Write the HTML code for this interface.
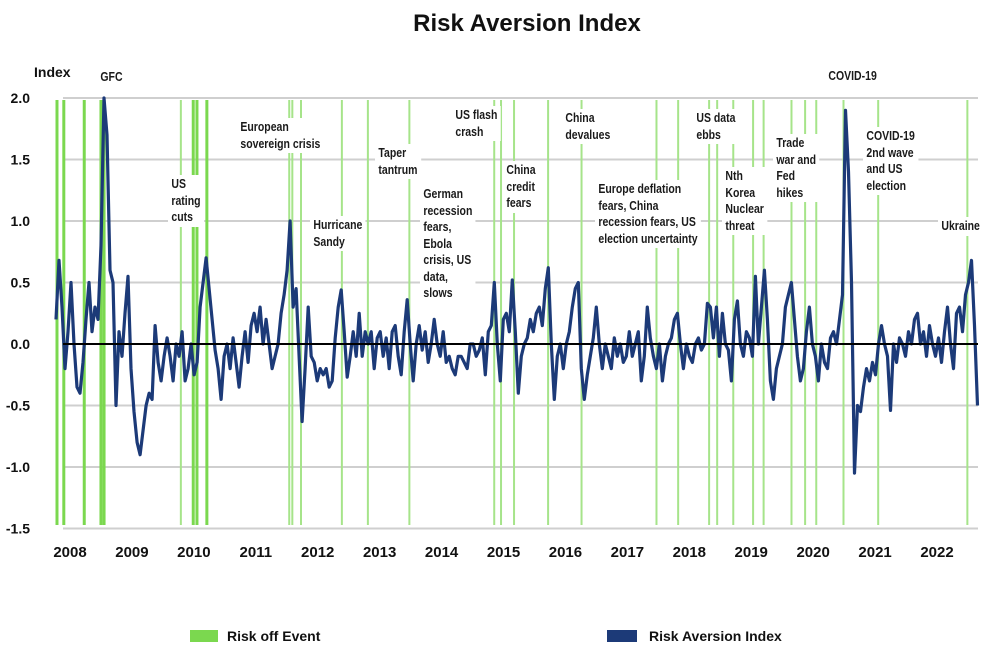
<!DOCTYPE html>
<html><head><meta charset="utf-8">
<style>
html,body{margin:0;padding:0;background:#fff;}
#wrap{position:relative;width:996px;height:654px;overflow:hidden;font-family:"Liberation Sans",sans-serif;color:#1a1a1a;}
svg{position:absolute;left:0;top:0;}
.lbl{position:absolute;background:#fff;font-family:"Liberation Sans",sans-serif;font-weight:bold;font-size:12.5px;line-height:16.5px;padding:1px 4px;white-space:nowrap;color:#1a1a1a;transform:scaleX(0.84);transform-origin:0 0;}
</style></head><body>
<div id="wrap">
<svg id="chart" width="996" height="654"></svg>
<div class="lbl" style="left:97px;top:68px;background:none">GFC</div>
<div class="lbl" style="left:825px;top:67px;background:none">COVID-19</div>
<div class="lbl" style="left:237px;top:118px">European<br>sovereign crisis</div>
<div class="lbl" style="left:168px;top:175px">US<br>rating<br>cuts</div>
<div class="lbl" style="left:310px;top:216px">Hurricane<br>Sandy</div>
<div class="lbl" style="left:375px;top:144px">Taper<br>tantrum</div>
<div class="lbl" style="left:420px;top:185px">German<br>recession<br>fears,<br>Ebola<br>crisis, US<br>data,<br>slows</div>
<div class="lbl" style="left:452px;top:106px">US flash<br>crash</div>
<div class="lbl" style="left:503px;top:161px">China<br>credit<br>fears</div>
<div class="lbl" style="left:562px;top:109px">China<br>devalues</div>
<div class="lbl" style="left:595px;top:180px">Europe deflation<br>fears, China<br>recession fears, US<br>election uncertainty</div>
<div class="lbl" style="left:693px;top:109px">US data<br>ebbs</div>
<div class="lbl" style="left:722px;top:167px">Nth<br>Korea<br>Nuclear<br>threat</div>
<div class="lbl" style="left:773px;top:134px">Trade<br>war and<br>Fed<br>hikes</div>
<div class="lbl" style="left:863px;top:127px">COVID-19<br>2nd wave<br>and US<br>election</div>
<div class="lbl" style="left:938px;top:217px">Ukraine</div>
</div>
<script>
const values = [0.2,0.68,0.3,-0.2,0.1,0.5,0.0,-0.35,-0.4,-0.15,0.2,0.5,0.1,0.3,0.2,0.8,2.0,1.7,0.6,0.5,-0.5,0.1,-0.1,0.25,0.55,-0.2,-0.55,-0.8,-0.9,-0.7,-0.5,-0.4,-0.45,0.15,-0.15,-0.3,-0.1,0.05,-0.1,-0.3,0.0,-0.1,0.1,-0.3,-0.2,0.0,-0.25,-0.15,0.3,0.5,0.7,0.45,0.2,-0.05,-0.2,-0.45,-0.1,0.0,-0.2,0.05,-0.15,-0.35,-0.1,0.1,-0.15,0.15,0.25,0.1,0.3,0.0,0.2,0.0,-0.2,-0.1,0.0,0.25,0.4,0.6,1.0,0.3,0.45,-0.1,-0.63,-0.2,0.3,-0.1,-0.15,-0.3,-0.2,-0.25,-0.2,-0.35,-0.3,0.05,0.3,0.44,0.1,-0.27,-0.1,0.1,-0.1,0.25,-0.1,0.1,0.0,0.1,-0.2,0.05,0.1,-0.1,0.05,-0.2,0.1,0.15,-0.1,-0.25,0.1,0.36,0.0,-0.3,0.0,0.15,-0.05,0.1,-0.15,0.0,0.2,0.0,-0.1,0.1,-0.15,-0.1,-0.2,-0.25,-0.1,-0.1,-0.15,-0.2,0.0,0.0,-0.1,-0.05,0.05,-0.25,0.1,0.15,0.5,0.0,-0.3,0.2,0.25,0.1,0.52,0.1,-0.4,-0.1,0.0,0.05,0.2,0.1,0.25,0.3,0.15,0.45,0.62,0.0,-0.45,-0.1,0.0,-0.2,0.0,0.1,0.3,0.45,0.5,-0.2,-0.45,-0.25,-0.1,0.05,0.3,0.0,-0.2,0.0,-0.1,-0.2,0.05,-0.1,0.0,-0.15,-0.1,0.1,-0.1,0.0,0.1,-0.3,-0.1,0.3,0.05,-0.1,-0.2,0.0,-0.3,-0.1,0.0,0.05,0.2,0.25,0.0,-0.2,0.0,-0.1,-0.15,0.0,0.05,-0.05,0.0,0.33,0.3,0.05,0.3,-0.1,0.25,0.0,-0.05,-0.3,0.2,0.35,0.0,-0.1,0.1,0.05,-0.1,0.55,0.0,0.3,0.6,0.2,-0.3,-0.45,-0.2,-0.1,0.0,0.3,0.4,0.5,0.2,-0.1,-0.3,-0.2,0.1,0.3,0.0,-0.1,-0.3,0.0,-0.15,-0.2,0.05,0.1,0.0,0.2,0.4,1.9,1.4,0.5,-1.05,-0.5,-0.55,-0.35,-0.2,-0.3,-0.15,-0.25,0.0,0.15,0.0,-0.1,-0.54,0.0,-0.15,0.05,0.0,-0.1,0.1,0.0,0.2,0.25,0.0,0.1,-0.1,0.15,0.0,-0.1,0.05,-0.15,0.1,0.3,0.0,-0.2,0.25,0.3,0.1,0.4,0.5,0.68,0.15,-0.5];
const seriesStart = 2007.774;
const seriesStep = 0.04847;
const events = [2007.79,2007.90,2008.23,2008.50,2008.55,2009.79,2009.99,2010.05,2010.21,2011.54,2011.59,2011.73,2012.39,2012.81,2013.48,2014.85,2014.96,2015.17,2015.72,2016.26,2017.47,2017.82,2018.32,2018.45,2018.71,2019.03,2019.20,2019.65,2019.87,2020.05,2020.49,2021.05,2022.49];
const majorEvents = [true,true,true,true,true,false,true,true,true,false,false,false,false,false,false,false,false,false,false,false,false,false,false,false,false,false,false,false,false,false,false,false,false];
const yTicks = [2.0,1.5,1.0,0.5,0.0,-0.5,-1.0,-1.5];
const yTickLabels = ["2.0","1.5","1.0","0.5","0.0","-0.5","-1.0","-1.5"];
const years = [2008,2009,2010,2011,2012,2013,2014,2015,2016,2017,2018,2019,2020,2021,2022];

const NS="http://www.w3.org/2000/svg";
const svg=document.getElementById('chart');
const xS=t=>70+(t-2008)*61.93;
const yS=v=>344-v*123;
function mk(tag,attrs){const e=document.createElementNS(NS,tag);for(const k in attrs)e.setAttribute(k,attrs[k]);svg.appendChild(e);return e;}

let e=mk('text',{x:527,y:31,'text-anchor':'middle','font-size':24,'font-weight':'bold',fill:'#111'});
e.textContent='Risk Aversion Index';


e=mk('text',{x:34,y:77,'font-size':14,'font-weight':'bold',fill:'#111'});
e.textContent='Index';



yTicks.forEach((v,i)=>{
  const g=mk('line',{x1:63,x2:978,y1:yS(v),y2:yS(v),stroke:'#cfcfcf','stroke-width':2});
  
  
  const t=mk('text',{x:30,y:yS(v)+5,'text-anchor':'end','font-size':14,'font-weight':'bold',fill:'#111'});
  t.textContent=yTickLabels[i];
  
  
});
years.forEach(y=>{
  const t=mk('text',{x:xS(y),y:557,'text-anchor':'middle','font-size':15,'font-weight':'bold',fill:'#111'});
  t.textContent=String(y);
  
  
});
events.forEach((d,i)=>{
  const l=mk('line',{x1:xS(d),x2:xS(d),y1:100,y2:525,stroke:majorEvents[i]?'#7bd84f':'#a6e48a','stroke-width':majorEvents[i]?3:2});
  
  
});
let dstr='';
values.forEach((v,i)=>{const x=xS(seriesStart+i*seriesStep);dstr+=(i?'L':'M')+x.toFixed(1)+','+yS(v).toFixed(1);});
const p=mk('path',{d:dstr,fill:'none',stroke:'#1c3a78','stroke-width':3.2,'stroke-linejoin':'round'});


const z=mk('line',{x1:63,x2:978,y1:yS(0),y2:yS(0),stroke:'#000','stroke-width':2});



let r=mk('rect',{x:190,y:630,width:28,height:12,fill:'#7bd84f'});


e=mk('text',{x:227,y:641,'font-size':14,'font-weight':'bold',fill:'#111'});
e.textContent='Risk off Event';


r=mk('rect',{x:607,y:630,width:30,height:12,fill:'#1c3a78'});


e=mk('text',{x:649,y:641,'font-size':14,'font-weight':'bold',fill:'#111'});
e.textContent='Risk Aversion Index';


</script>
</body></html>
